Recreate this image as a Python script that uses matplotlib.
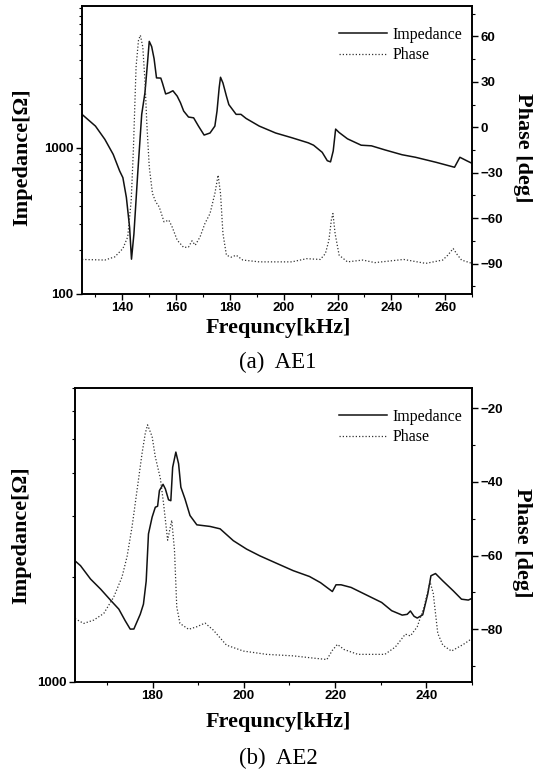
import matplotlib
matplotlib.use('Agg')
import matplotlib.pyplot as plt
from matplotlib.ticker import MultipleLocator, LogLocator, NullFormatter, FuncFormatter

# AE1 impedance / phase
f_z1 = [125, 130, 133.5, 136.6, 139, 140.2, 141.5, 142.7, 143.4, 144.3, 145.7, 147.2,
        148.4, 149.4, 150, 150.9, 151.8, 152.7, 154.3, 154.9, 156.1, 157.3, 158.8,
        160.4, 161.6, 162.8, 164.6, 166.5, 168.3, 170.4, 172.6, 174.4, 175.2, 176,
        176.5, 177.4, 178.7, 179.6, 182.3, 184.1, 186, 190.9, 197, 203, 209.1, 211.1,
        214.3, 216.2, 217.4, 218.4, 219.3, 220.6, 223.7, 228.8, 232.6, 237.7, 244,
        249, 256.6, 263.5, 265.5, 268, 270]
z1 = [1690, 1405, 1140, 900, 693, 624, 457, 285, 173, 257, 660, 1690,
      2370, 3890, 5330, 4910, 4060, 3000, 2990, 2770, 2330, 2370, 2450,
      2250, 2030, 1780, 1620, 1600, 1405, 1220, 1260, 1405, 1780, 2570,
      3030, 2770, 2250, 1970, 1690, 1690, 1585, 1405, 1260, 1170, 1080, 1040,
      930, 815, 800, 950, 1340, 1270, 1150, 1040, 1030, 965, 895,
      860, 795, 735, 860, 815, 782]
f_p1 = [125, 133.5, 137.2, 140.2, 142, 143.3, 144.1, 145.1, 146, 146.7, 147.6, 148.4,
        149.1, 150, 151.2, 152.4, 153.7, 155.5, 157.3, 158.5, 160.4, 162.8, 164.6,
        165.9, 167.1, 168.9, 170.7, 172.6, 174.4, 175.6, 176.5, 177.4, 178.7, 180.5,
        182.3, 184.8, 190.9, 203, 208.5, 213.6, 215.5, 216.8, 217.7, 218.3, 219.1,
        220.6, 223.7, 229.4, 233.9, 244.6, 252.8, 259.1, 261, 263, 264.5, 266.1, 270]
p1 = [-87.2, -87.6, -85.5, -80, -72.3, -48, -15, 39.8, 57.4, 60.7, 53, 31,
      2.5, -26, -43.7, -49.2, -52.5, -62.4, -61.3, -65.7, -74.5, -79.3, -79,
      -74.9, -77.8, -72.3, -63.5, -56.9, -43.7, -31.6, -43.7, -70.1, -84.4, -85.7,
      -84.4, -87.6, -88.8, -88.8, -86.7, -87.2, -83.3, -74.5, -61.3, -56.9, -70.1,
      -84.4, -88.8, -87.6, -89.3, -87.2, -89.8, -87.6, -84.4, -80, -84, -87.6, -89.8]

# AE2 impedance / phase
f_z2 = [163, 164.2, 166.4, 168.6, 170.8, 172.6, 174, 175.1, 175.9, 177.3, 178, 178.6,
        179.1, 179.9, 180.6, 181.1, 181.5, 182.3, 182.8, 183.5, 184, 184.4, 185.1,
        185.7, 186.2, 187.1, 188.2, 189.7, 192.6, 194.8, 197.7, 200.6, 203.5, 207.1,
        210.8, 214.4, 216.8, 219.4, 220.2, 221.3, 223.5, 227.2, 230.2, 232.4, 234.7,
        235.8, 236.5, 237.3, 238, 239.2, 240.3, 241, 242, 243.6, 245.9, 247.7, 249.2, 250]
z2 = [2230, 2160, 1977, 1850, 1718, 1620, 1500, 1419, 1420, 1566, 1674, 1950,
      2665, 2977, 3180, 3200, 3550, 3700, 3590, 3340, 3320, 4140, 4580,
      4240, 3630, 3360, 3010, 2830, 2800, 2756, 2548, 2410, 2305, 2196,
      2090, 2010, 1930, 1820, 1903, 1903, 1870, 1770, 1693, 1603, 1557,
      1565, 1600, 1545, 1527, 1560, 1790, 2020, 2050, 1953, 1828, 1730, 1720, 1740]
f_p2 = [163, 164.9, 167.1, 169.3, 171.5, 173.3, 174.4, 175.5, 176.6, 177.7, 178.4,
        178.9, 179.9, 180.6, 181.7, 182.4, 183.3, 183.9, 184.2, 184.8, 185.3, 186,
        187.9, 189.7, 191.5, 193.3, 196.2, 199.9, 205, 210.8, 214.4, 218.2, 219.4,
        220.5, 222, 225, 230.9, 233.2, 235.4, 236.5, 238, 239.5, 240.8, 241.5, 242.5,
        243.6, 245.5, 248.1, 250]
p2 = [-77.1, -78.4, -77.5, -75.7, -71.2, -65.8, -60.3, -52.2, -42.2, -32.2, -26.8,
      -24.5, -27.7, -33.2, -39, -45.8, -55.8, -52.2, -50.4, -58.5, -73.9, -78.4,
      -80, -79.3, -78.3, -80.2, -84.3, -85.9, -86.8, -87.2, -87.7, -88.2, -85.7,
      -84.1, -85.5, -86.8, -86.8, -84.8, -81.3, -81.8, -79.3, -73.9, -67.1, -70.2, -81.1,
      -84.3, -85.9, -84.1, -82.5]

SERIF = 'Liberation Serif'
SANS = 'Liberation Sans'
W, H = 533.0, 772.0


def style_ticks(ax):
    for lab in ax.get_xticklabels() + ax.get_yticklabels():
        lab.set_family(SANS)
        lab.set_weight('bold')
        lab.set_fontsize(9.5)


def plot_panel(fig, box, f_z, z, f_p, p, xlim, zlim, plim, xmajor, pmajor,
               xlabel_y, caption_y, caption, ylab_x, ylab_y, plab_x, plab_y, leg_y):
    left, top, right, bottom = box
    ax = fig.add_axes([left / W, 1 - bottom / H, (right - left) / W, (bottom - top) / H])
    ax2 = ax.twinx()
    l1, = ax.plot(f_z, z, color='#111111', lw=1.1, label='Impedance')
    l2, = ax2.plot(f_p, p, color='#333333', lw=0.9, ls=(0, (1, 1.6)), label='Phase')
    ax.set_yscale('log')
    ax.set_xlim(*xlim)
    ax.set_ylim(*zlim)
    ax2.set_ylim(*plim)
    ax.xaxis.set_major_locator(MultipleLocator(xmajor))
    ax.xaxis.set_minor_locator(MultipleLocator(xmajor / 2))
    ax.yaxis.set_major_locator(LogLocator(base=10))
    ax.yaxis.set_major_formatter(FuncFormatter(lambda v, pos: '%d' % v))
    ax.yaxis.set_minor_locator(LogLocator(base=10, subs=range(2, 10)))
    ax.yaxis.set_minor_formatter(NullFormatter())
    ax2.yaxis.set_major_locator(MultipleLocator(pmajor))
    ax2.yaxis.set_minor_locator(MultipleLocator(pmajor / 2))
    for a in (ax, ax2):
        a.tick_params(which='major', length=4, width=1, pad=2)
        a.tick_params(which='minor', length=2.5, width=0.8)
        for s in a.spines.values():
            s.set_linewidth(1.2)
    style_ticks(ax)
    style_ticks(ax2)
    ax.legend([l1, l2], ['Impedance', 'Phase'], loc='upper right',
              bbox_to_anchor=(1.0, 1 - (leg_y - top) / (bottom - top)), frameon=False,
              prop={'family': SERIF, 'size': 11.5}, handlelength=3.0,
              handletextpad=0.35, labelspacing=0.3, borderaxespad=0.2)
    fig.text(278 / W, 1 - xlabel_y / H, 'Frequncy[kHz]', ha='center', va='center',
             family=SERIF, weight='bold', fontsize=16)
    fig.text(278 / W, 1 - caption_y / H, caption, ha='center', va='center',
             family=SERIF, fontsize=16.5)
    fig.text(ylab_x / W, 1 - ylab_y / H, 'Impedance[\u03a9]', ha='center', va='center',
             rotation=90, family=SERIF, weight='bold', fontsize=16)
    fig.text(plab_x / W, 1 - plab_y / H, 'Phase [deg]', ha='center', va='center',
             rotation=270, family=SERIF, weight='bold', fontsize=16)
    return ax, ax2


fig = plt.figure(figsize=(5.33, 7.72), dpi=100)

plot_panel(fig, (82, 6, 472, 294), f_z1, z1, f_p1, p1,
           (125, 270), (100, 9300), (-110, 80), 20, 30,
           328, 362, '(a)  AE1', 22, 157, 523, 148, 17)

plot_panel(fig, (75, 388, 472, 682), f_z2, z2, f_p2, p2,
           (163, 250), (1000, 7000), (-94.3, -14.5), 20, 20,
           722, 758, '(b)  AE2', 21, 535, 522, 543, 399)

fig.savefig('out.png', dpi=100)
